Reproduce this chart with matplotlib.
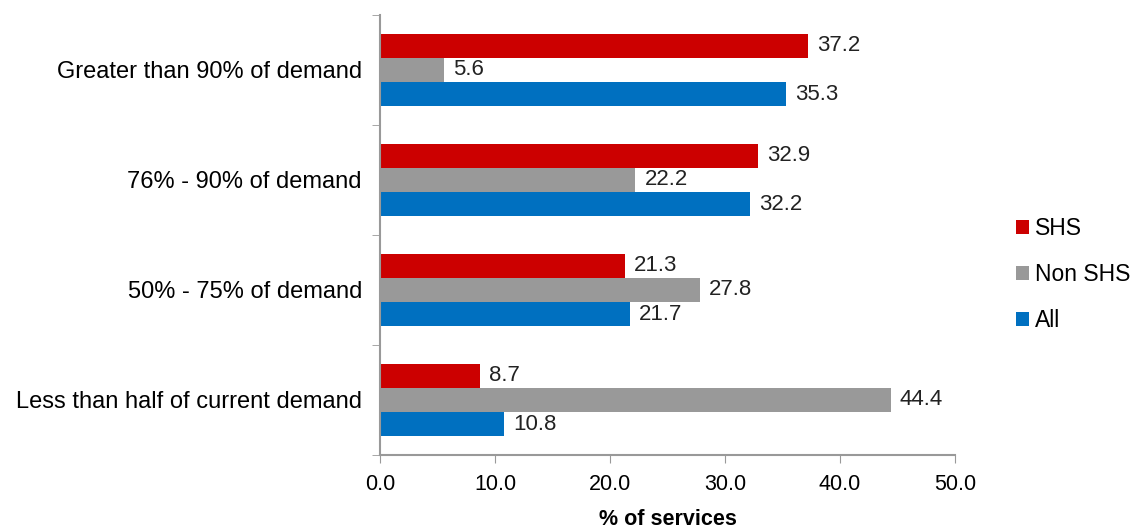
import numpy as np
import matplotlib.pyplot as plt

plt.rcParams['font.family'] = ['Liberation Sans', 'DejaVu Sans']

categories = ["Less than half of current demand", "50% - 75% of demand",
              "76% - 90% of demand", "Greater than 90% of demand"]
shs = [8.7, 21.3, 32.9, 37.2]
non_shs = [44.4, 27.8, 22.2, 5.6]
all_services = [10.8, 21.7, 32.2, 35.3]

series = [("SHS", shs, "#CC0000"), ("Non SHS", non_shs, "#999999"), ("All", all_services, "#0070C0")]

fig = plt.figure(figsize=(11.41, 5.29), dpi=100)
ax = fig.add_axes([0.333, 0.14, 0.504, 0.832])

y = np.arange(len(categories))
h = 0.22
offsets = [h, 0, -h]
for (name, vals, color), off in zip(series, offsets):
    bars = ax.barh(y + off, vals, height=h, color=color, label=name)
    for b, v in zip(bars, vals):
        ax.text(v + 0.8, b.get_y() + b.get_height() / 2, f"{v:.1f}",
                va="center", ha="left", fontsize=16, color="#222222")

ax.set_xlim(0, 50)
ax.set_ylim(-0.5, len(categories) - 0.5)
ax.set_xticks(np.arange(0, 51, 10))
ax.set_xticklabels([f"{t:.1f}" for t in range(0, 51, 10)], fontsize=15.5)
ax.set_yticks(y)
ax.set_yticklabels(categories, fontsize=17)
ax.tick_params(axis="y", length=0, pad=13)
ax.set_yticks(np.arange(-0.5, len(categories), 1), minor=True)
ax.tick_params(axis="y", which="minor", length=6, color="#999999", direction="out")
ax.tick_params(axis="x", length=6, color="#999999", direction="out", pad=8)
ax.set_xlabel("% of services", fontsize=15.5, fontweight="bold", labelpad=10)

for s in ["top", "right"]:
    ax.spines[s].set_visible(False)
for s in ["left", "bottom"]:
    ax.spines[s].set_color("#999999")
    ax.spines[s].set_linewidth(1.5)

ax.legend(loc="center left", bbox_to_anchor=(1.07, 0.41), frameon=False, fontsize=16.5,
          handlelength=0.55, handleheight=0.55, handletextpad=0.3, labelspacing=1.0)

fig.savefig("out.png", dpi=100)
